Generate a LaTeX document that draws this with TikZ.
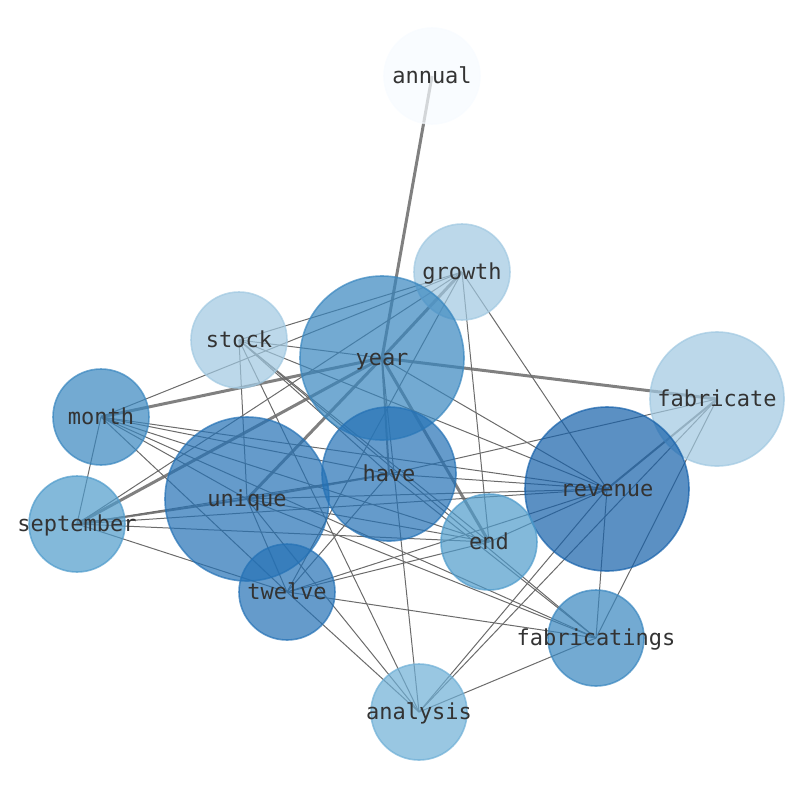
\documentclass[tikz,border=0pt]{standalone}
\usepackage{fontspec}
\setmonofont{DejaVu Sans Mono}
\pgfdeclarelayer{bg}
\pgfsetlayers{bg,main}
\definecolor{c0}{RGB}{247,251,255}
\definecolor{c1}{RGB}{160,200,225}
\definecolor{c2}{RGB}{110,175,214}
\definecolor{c3}{RGB}{78,155,203}
\definecolor{c4}{RGB}{56,134,191}
\definecolor{c5}{RGB}{36,113,181}
\definecolor{c6}{RGB}{22,97,170}
\begin{document}
\begin{tikzpicture}[x=1pt,y=-1pt,
  word/.style={circle,inner sep=0pt,fill opacity=0.7,draw opacity=0.7,line width=1.6pt},
  small/.style={minimum size=96pt},
  mid/.style={minimum size=134pt},
  big/.style={minimum size=164pt},
  lab/.style={font=\ttfamily\fontsize{22}{22}\selectfont,text=black!80,inner sep=0pt,text height=15pt,text depth=0pt},
  thin/.style={draw=black!58,line width=1pt},
  medium/.style={draw=black!52,line width=2pt},
  heavy/.style={draw=black!50,line width=3pt}]
\useasboundingbox (0,0) rectangle (794,790);
\node[word,small,fill=c0,draw=c0,label={[lab]center:annual}] (annual) at (432,76) {};
\node[word,small,fill=c1,draw=c1,label={[lab]center:growth}] (growth) at (462,272) {};
\node[word,small,fill=c1,draw=c1,label={[lab]center:stock}] (stock) at (239,340) {};
\node[word,big,fill=c4,draw=c4,label={[lab]center:year}] (year) at (382,358) {};
\node[word,mid,fill=c1,draw=c1,label={[lab]center:fabricate}] (fabricate) at (717,399) {};
\node[word,small,fill=c4,draw=c4,label={[lab]center:month}] (month) at (101,417) {};
\node[word,mid,fill=c5,draw=c5,label={[lab]center:have}] (have) at (389,474) {};
\node[word,big,fill=c5,draw=c5,label={[lab]center:unique}] (unique) at (247,499) {};
\node[word,big,fill=c6,draw=c6,label={[lab]center:revenue}] (revenue) at (607,489) {};
\node[word,small,fill=c3,draw=c3,label={[lab]center:september}] (september) at (77,524) {};
\node[word,small,fill=c3,draw=c3,label={[lab]center:end}] (end) at (489,542) {};
\node[word,small,fill=c5,draw=c5,label={[lab]center:twelve}] (twelve) at (287,592) {};
\node[word,small,fill=c4,draw=c4,label={[lab]center:fabricatings}] (fabricatings) at (596,638) {};
\node[word,small,fill=c2,draw=c2,label={[lab]center:analysis}] (analysis) at (419,712) {};
\begin{pgfonlayer}{bg}
\foreach \a/\b in {annual/year,year/growth,year/fabricate,year/month,year/september,year/end,unique/year}
  \draw[heavy] (\a.center) -- (\b.center);
\foreach \a/\b in {year/have,unique/have,unique/september,revenue/fabricate}
  \draw[medium] (\a.center) -- (\b.center);
\foreach \a/\b in {growth/month,growth/stock,growth/september,growth/twelve,growth/end,growth/revenue,
  stock/year,stock/unique,stock/analysis,stock/end,stock/fabricatings,stock/revenue,stock/have,
  month/september,month/have,month/revenue,month/end,month/fabricatings,month/twelve,month/unique,
  september/have,september/revenue,september/end,september/twelve,
  unique/revenue,unique/end,unique/fabricatings,unique/analysis,unique/twelve,
  twelve/revenue,twelve/end,twelve/fabricatings,twelve/analysis,twelve/have,
  have/revenue,have/fabricatings,have/fabricate,
  year/analysis,year/revenue,end/revenue,
  revenue/fabricatings,revenue/analysis,
  fabricate/analysis,fabricate/fabricatings,analysis/fabricatings}
  \draw[thin] (\a.center) -- (\b.center);
\end{pgfonlayer}
\end{tikzpicture}
\end{document}
